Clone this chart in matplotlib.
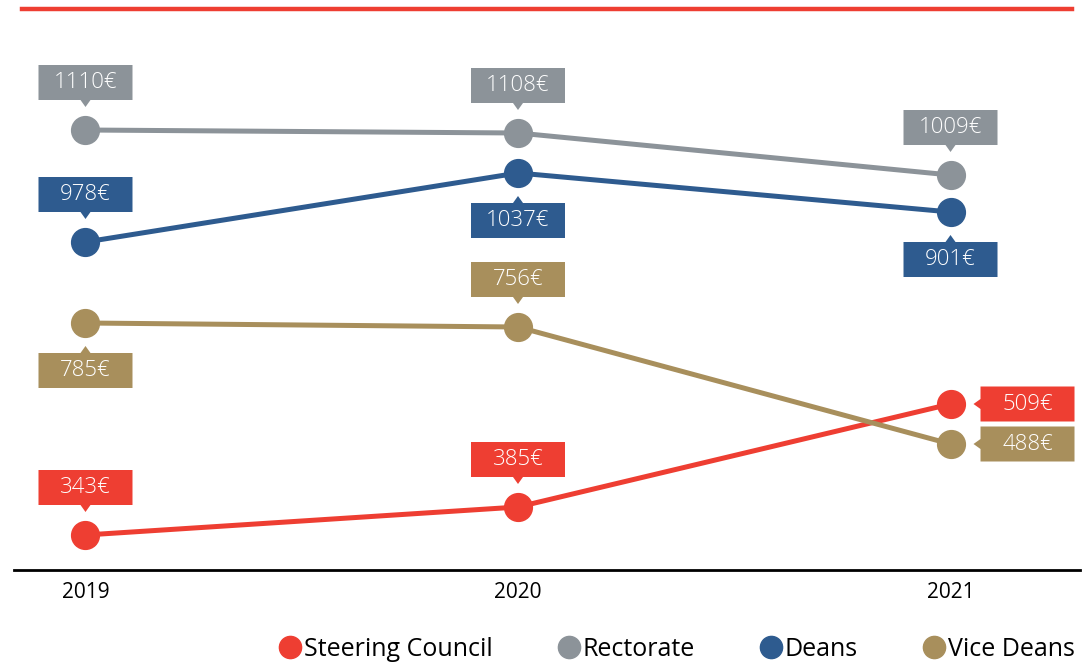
import matplotlib.pyplot as plt
import matplotlib.transforms as mtransforms
from matplotlib.patches import Polygon
from matplotlib.lines import Line2D

# data
years = ['2019', '2020', '2021']
series = ['Steering Council', 'Rectorate', 'Deans', 'Vice Deans']
steering_values = [343, 385, 509]
rectorate_values = [1110, 1108, 1009]
deans_values = [978, 1037, 901]
vice_deans_values = [785, 756, 488]
# drawn heights of the points (the reference does not place them on a linear scale)
steering_level = [35, 63, 166]
rectorate_level = [440, 437, 395]
deans_level = [328, 397, 358]
vice_deans_level = [247, 243, 126]
# where each label box sits relative to its point
steering_side = ['above', 'above', 'right']
rectorate_side = ['above', 'above', 'above']
deans_side = ['above', 'below', 'below']
vice_deans_side = ['below', 'above', 'right']

colors = ['#EE3E32', '#8C9399', '#2E5B8F', '#A88F5C']
plt.rcParams['font.family'] = ['Open Sans', 'DejaVu Sans']

fig = plt.figure(figsize=(10.84, 6.64), dpi=100)
ax = fig.add_axes([14 / 1084, 94 / 664, 1066 / 1084, 570 / 664])
ax.set_xlim(-0.1653, 2.2994)
ax.set_ylim(0, 570)
for s in ['top', 'right', 'left']:
    ax.spines[s].set_visible(False)
ax.spines['bottom'].set_linewidth(2)
ax.set_yticks([])
ax.set_xticks(range(len(years)))
ax.set_xticklabels(years, fontsize=15)
ax.tick_params(axis='x', length=0, pad=9)

# red bar at the top
fig.add_artist(Line2D([22 / 1084, 1072 / 1084], [1 - 9 / 664, 1 - 9 / 664],
                      color=colors[0], lw=3.2))

BW, BH, GAP, TRI = 94, 35, 30, 7


def label_shape(side):
    hw = BW / 2
    if side == 'above':
        b = GAP
        return [(-hw, b), (-5, b), (0, b - TRI), (5, b), (hw, b), (hw, b + BH), (-hw, b + BH)], (0, b + BH / 2)
    if side == 'below':
        t = -GAP
        return [(-hw, t), (-5, t), (0, t + TRI), (5, t), (hw, t), (hw, t - BH), (-hw, t - BH)], (0, t - BH / 2)
    l = GAP
    return [(l, -BH / 2), (l, -5), (l - TRI, 0), (l, 5), (l, BH / 2), (l + BW, BH / 2), (l + BW, -BH / 2)], (l + BW / 2, 0)


all_values = [steering_values, rectorate_values, deans_values, vice_deans_values]
all_levels = [steering_level, rectorate_level, deans_level, vice_deans_level]
all_sides = [steering_side, rectorate_side, deans_side, vice_deans_side]
xs = list(range(len(years)))

for name, vals, lev, sides, c in zip(series, all_values, all_levels, all_sides, colors):
    ax.plot(xs, lev, color=c, lw=3.6, marker='o', ms=20, clip_on=False, zorder=3)
    for x, y, v, side in zip(xs, lev, vals, sides):
        verts, (tx, ty) = label_shape(side)
        tr = mtransforms.Affine2D() + mtransforms.ScaledTranslation(x, y, ax.transData)
        ax.add_patch(Polygon(verts, closed=True, facecolor=c, edgecolor='none',
                             transform=tr, clip_on=False, zorder=4))
        ax.text(tx, ty, f'{v}€', transform=tr, color='white', fontsize=16,
                fontweight='light', ha='center', va='center', zorder=5)

handles = [Line2D([], [], ls='none', marker='o', ms=16, color=c) for c in colors]
fig.legend(handles, series, loc='lower right', bbox_to_anchor=(1.012, -0.031), ncol=4,
           frameon=False, fontsize=18, handletextpad=0.0, columnspacing=2.5,
           handlelength=1.1)

fig.savefig('out.png', dpi=100)
